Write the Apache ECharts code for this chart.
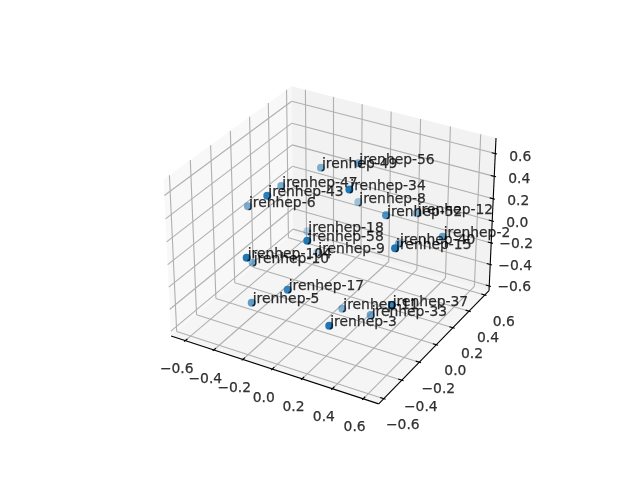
<!DOCTYPE html>
<html>
<head>
<meta charset="utf-8">
<script src="https://cdn.jsdelivr.net/npm/echarts@6/dist/echarts.min.js"></script>
<style>body { margin: 0; background: #fff; } #chart { width: 640px; height: 480px; }</style>
</head>
<body>
<div id="chart"></div>
<script>
const names = ['jrenhep-49', 'jrenhep-47', 'jrenhep-43', 'jrenhep-6', 'jrenhep-56', 'jrenhep-34', 'jrenhep-8', 'jrenhep-52',
    'jrenhep-12', 'jrenhep-18', 'jrenhep-58', 'jrenhep-9', 'jrenhep-104', 'jrenhep-10', 'jrenhep-17', 'jrenhep-5',
    'jrenhep-11', 'jrenhep-3', 'jrenhep-33', 'jrenhep-37', 'jrenhep-2', 'jrenhep-40', 'jrenhep-15'];
const xs = [-0.224, -0.370, -0.208, -0.511, -0.009, 0.216, -0.066, 0.321, 0.311, -0.349, 0.083, -0.264,
    -0.190, -0.435, -0.004, -0.287, 0.096, 0.310, 0.306, 0.533, 0.584, 0.318, 0.523];
const ys = [0.229, 0.027, -0.362, -0.114, 0.295, -0.177, 0.394, 0.054, 0.434, 0.272, -0.406, 0.248,
    -0.605, -0.190, -0.478, -0.425, -0.052, -0.542, -0.081, -0.235, 0.255, 0.215, -0.191];
const zs = [0.429, 0.347, 0.580, 0.210, 0.500, 0.663, 0.068, 0.323, 0.077, -0.222, 0.333, -0.368,
    0.224, -0.215, -0.075, -0.346, -0.526, -0.214, -0.475, -0.174, 0.094, -0.040, 0.284];
const tickValues = [-0.6, -0.4, -0.2, 0, 0.2, 0.4, 0.6];
const tickLabels = ['\u22120.6', '\u22120.4', '\u22120.2', '0.0', '0.2', '0.4', '0.6'];
const xLim = [-0.7, 0.7];
const yLim = [-0.655, 0.655];
const zLim = [-0.645, 0.735];

const FONT = 'DejaVu Sans';
const FONT_SIZE = 13.89;
const LINE_WIDTH = 1.11;

// same view as a default 3d axes: elev 30, azim -60, box 4:4:3, camera distance 10
const box = [1.1905, 1.1905, 0.8929];
const U = [0.8660254, 0.5, 0];
const V = [-0.25, 0.4330127, 0.8660254];
const W = [0.4330127, -0.75, 0.5];
const dot = (a, b) => a[0] * b[0] + a[1] * b[1] + a[2] * b[2];

function boxOffset(x, y, z) {
    return [
        ((x - xLim[0]) / (xLim[1] - xLim[0]) - 0.5) * box[0],
        ((y - yLim[0]) / (yLim[1] - yLim[0]) - 0.5) * box[1],
        ((z - zLim[0]) / (zLim[1] - zLim[0]) - 0.5) * box[2]
    ];
}
function project(x, y, z) {
    const q = boxOffset(x, y, z);
    const w = 10 - dot(q, W);
    return [333 + dot(q, U) / w * 1997.8, 237.4 - dot(q, V) / w * 1997.8];
}
function seg(a, b) {
    return { coords: [project(...a), project(...b)] };
}

const [x0, x1] = xLim, [y0, y1] = yLim, [z0, z1] = zLim;

const panes = [
    { pts: [[x0, y0, z0], [x0, y1, z0], [x0, y1, z1], [x0, y0, z1]], color: 'rgba(242,242,242,0.5)' },
    { pts: [[x0, y1, z0], [x1, y1, z0], [x1, y1, z1], [x0, y1, z1]], color: 'rgba(230,230,230,0.5)' },
    { pts: [[x0, y0, z0], [x1, y0, z0], [x1, y1, z0], [x0, y1, z0]], color: 'rgba(236,236,236,0.5)' }
];

const gridLines = [];
const tickLines = [];
const dx = (x1 - x0) / 12, dy = (y1 - y0) / 12;
tickValues.forEach(t => {
    gridLines.push(seg([t, y0, z0], [t, y1, z0]), seg([t, y1, z0], [t, y1, z1]));
    gridLines.push(seg([x1, t, z0], [x0, t, z0]), seg([x0, t, z0], [x0, t, z1]));
    gridLines.push(seg([x1, y1, t], [x0, y1, t]), seg([x0, y1, t], [x0, y0, t]));
    tickLines.push(seg([t, y0 - 0.1 * dy, z0], [t, y0 + 0.2 * dy, z0]));
    tickLines.push(seg([x1 + 0.1 * dx, t, z0], [x1 - 0.2 * dx, t, z0]));
    tickLines.push(seg([x1 + 0.1 * dx, y1, t], [x1 - 0.2 * dx, y1, t]));
});
const axisLines = [
    seg([x0, y0, z0], [x1, y0, z0]),
    seg([x1, y0, z0], [x1, y1, z0]),
    seg([x1, y1, z0], [x1, y1, z1])
];

// depth shading, nearest point full colour, farthest 0.3
const depths = names.map((n, i) => dot(boxOffset(xs[i], ys[i], zs[i]), W));
const dMin = Math.min(...depths), dMax = Math.max(...depths);
const points = names.map((n, i) => ({
    value: project(xs[i], ys[i], zs[i]),
    name: n,
    depth: depths[i],
    itemStyle: { opacity: 0.3 + 0.7 * (depths[i] - dMin) / (dMax - dMin) }
})).sort((a, b) => a.depth - b.depth);

const textStyle = {
    show: true, position: 'inside', formatter: p => p.data.name, color: '#000',
    fontFamily: FONT, fontSize: FONT_SIZE, textBorderColor: '#000', textBorderWidth: 0.25
};

function lineSeries(data, color, z) {
    return {
        type: 'lines', coordinateSystem: 'cartesian2d', data: data, z: z, silent: true,
        polyline: false, lineStyle: { color: color, width: LINE_WIDTH, opacity: 1 }
    };
}
function tickLabelSeries(values, offset) {
    return {
        type: 'scatter', data: values, symbolSize: 1, z: 6, silent: true,
        itemStyle: { color: 'transparent' },
        label: { ...textStyle, offset: offset, align: 'center', verticalAlign: 'middle' }
    };
}

const chart = echarts.init(document.getElementById('chart'), null, { renderer: 'canvas' });
chart.setOption({
    animation: false,
    backgroundColor: '#fff',
    grid: { left: 0, right: 0, top: 0, bottom: 0 },
    xAxis: { type: 'value', min: 0, max: 640, show: false },
    yAxis: { type: 'value', min: 0, max: 480, inverse: true, show: false },
    series: [
        {
            type: 'custom', coordinateSystem: 'cartesian2d', z: 1, silent: true,
            data: panes.map((p, i) => [i]),
            renderItem: (params, api) => ({
                type: 'polygon',
                shape: { points: panes[params.dataIndex].pts.map(p => api.coord(project(...p))) },
                style: { fill: panes[params.dataIndex].color }
            })
        },
        lineSeries(gridLines, '#b0b0b0', 2),
        lineSeries(axisLines, '#000', 3),
        lineSeries(tickLines, '#000', 3),
        {
            type: 'scatter', data: points, symbolSize: 8, z: 4, silent: true,
            itemStyle: { color: '#1f77b4' }
        },
        {
            type: 'scatter', data: points.map(p => ({ value: p.value, name: p.name })), symbolSize: 1, z: 5, silent: true,
            itemStyle: { color: 'transparent' },
            label: { ...textStyle, offset: [1, 4], align: 'left', verticalAlign: 'bottom' }
        },
        tickLabelSeries(tickValues.map((t, i) => ({ value: project(t, y0, z0), name: tickLabels[i] })), [-8.5, 29]),
        tickLabelSeries(tickValues.map((t, i) => ({ value: project(x1, t, z0), name: tickLabels[i] })), [19, 27]),
        {
            ...tickLabelSeries(tickValues.map((t, i) => ({
                value: project(x1, y1, t),
                name: tickLabels[i],
                // labels drift down a little towards the top of the z axis
                label: { offset: [25, 1 + i * 0.4] }
            })), [25, 1])
        }
    ]
});
</script>
</body>
</html>
